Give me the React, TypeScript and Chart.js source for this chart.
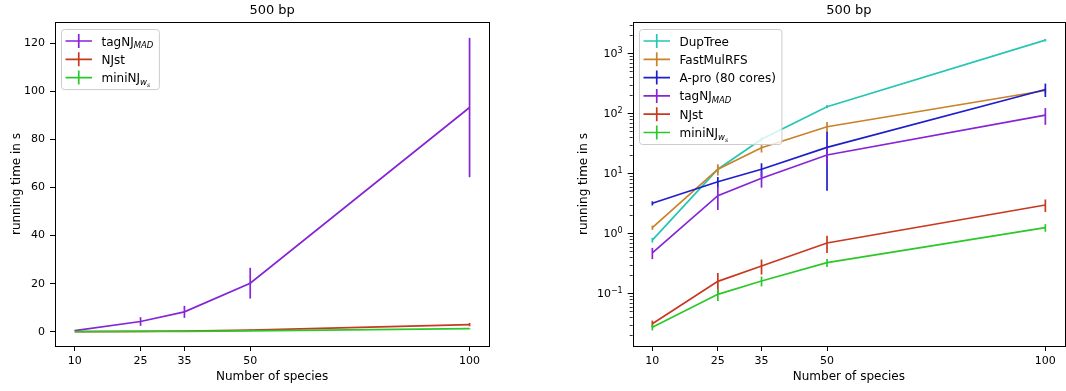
import React, { useEffect, useRef } from "react";
import { Chart, registerables } from "chart.js";

Chart.register(...registerables);

// ---- data ----
const speciesCounts = [10, 25, 35, 50, 100];

const dupTreeTimes = [0.77, 11.7, 36.9, 129, 1660];
const dupTreeErr = [0.07, 1.5, 3, 8, 80];
const fastMulRfsTimes = [1.24, 11.7, 26.7, 59.8, 240];
const fastMulRfsErr = [0.1, 2.5, 4.5, 12, 20];
const aproTimes = [3.16, 7.24, 11.7, 27.1, 250];
const aproErr = [0.25, 1.4, 3, 22, 63];
const tagNjTimes = [0.47, 4.24, 8.26, 20.2, 93.3];
const tagNjErr = [0.1, 1.8, 2.5, 6.4, 29];
const njstTimes = [0.031, 0.158, 0.285, 0.689, 2.96];
const njstErr = [0.004, 0.06, 0.08, 0.22, 0.7];
const miniNjTimes = [0.027, 0.096, 0.16, 0.324, 1.24];
const miniNjErr = [0.003, 0.022, 0.03, 0.05, 0.18];

const linearTicks = [0, 20, 40, 60, 80, 100, 120];
const logTicks = [0.1, 1, 10, 100, 1000];
const logTickExponents = ["\u22121", "0", "1", "2", "3"];

const chartTitle = "500 bp";
const xAxisTitle = "Number of species";
const yAxisTitle = "running time in s";

const FONT = '"DejaVu Sans", sans-serif';
const LINE_W = 1.7;

type Series = {
  name: string;
  sub?: string;
  subsub?: string;
  color: string;
  values: number[];
  errors: number[];
};

const dupTree: Series = { name: "DupTree", color: "#26c6b4", values: dupTreeTimes, errors: dupTreeErr };
const fastMulRfs: Series = { name: "FastMulRFS", color: "#c98228", values: fastMulRfsTimes, errors: fastMulRfsErr };
const apro: Series = { name: "A-pro (80 cores)", color: "#1e1ecd", values: aproTimes, errors: aproErr };
const tagNj: Series = { name: "tagNJ", sub: "MAD", color: "#8624d8", values: tagNjTimes, errors: tagNjErr };
const njst: Series = { name: "NJst", color: "#c8391e", values: njstTimes, errors: njstErr };
const miniNj: Series = { name: "miniNJ", sub: "w", subsub: "s", color: "#2cc82a", values: miniNjTimes, errors: miniNjErr };

type PanelSpec = {
  series: Series[];
  log: boolean;
  yMin: number;
  yMax: number;
  yAxisWidth: number;
  yTitlePad: number;
  rightPad: number;
};

function labelWidth(ctx: CanvasRenderingContext2D, s: Series) {
  ctx.font = `12px ${FONT}`;
  let w = ctx.measureText(s.name).width;
  if (s.sub) {
    ctx.font = `italic 8.5px ${FONT}`;
    w += ctx.measureText(s.sub).width;
  }
  if (s.subsub) {
    ctx.font = `italic 6px ${FONT}`;
    w += ctx.measureText(s.subsub).width;
  }
  return w;
}

function drawLabel(ctx: CanvasRenderingContext2D, s: Series, x: number, cy: number) {
  const base = cy + 4.5;
  ctx.fillStyle = "#000";
  ctx.textBaseline = "alphabetic";
  ctx.textAlign = "left";
  ctx.font = `12px ${FONT}`;
  ctx.fillText(s.name, x, base);
  let cx = x + ctx.measureText(s.name).width;
  if (s.sub) {
    ctx.font = `italic 8.5px ${FONT}`;
    ctx.fillText(s.sub, cx, base + 2.5);
    cx += ctx.measureText(s.sub).width;
  }
  if (s.subsub) {
    ctx.font = `italic 6px ${FONT}`;
    ctx.fillText(s.subsub, cx, base + 4.5);
  }
}

function makeDecor(spec: PanelSpec) {
  return {
    id: "panelDecor",
    afterDatasetDraw(chart: any, args: any) {
      const s = spec.series[args.index];
      if (!s) return;
      const { ctx } = chart;
      const xs = chart.scales.x;
      const ys = chart.scales.y;
      ctx.save();
      ctx.strokeStyle = s.color;
      ctx.lineWidth = LINE_W;
      speciesCounts.forEach((n, i) => {
        const px = xs.getPixelForValue(n);
        const lo = ys.getPixelForValue(s.values[i] - s.errors[i]);
        const hi = ys.getPixelForValue(s.values[i] + s.errors[i]);
        ctx.beginPath();
        ctx.moveTo(px, lo);
        ctx.lineTo(px, hi);
        ctx.stroke();
      });
      ctx.restore();
    },
    afterDraw(chart: any) {
      const { ctx, chartArea } = chart;
      const { left, right, top, bottom } = chartArea;
      const ys = chart.scales.y;
      ctx.save();

      if (spec.log) {
        // minor ticks
        ctx.strokeStyle = "#000";
        ctx.lineWidth = 0.8;
        for (let k = -2; k <= 3; k++) {
          for (let m = 2; m <= 9; m++) {
            const v = m * Math.pow(10, k);
            if (v < spec.yMin || v > spec.yMax) continue;
            const py = Math.round(ys.getPixelForValue(v)) + 0.5;
            ctx.beginPath();
            ctx.moveTo(left - 3, py);
            ctx.lineTo(left, py);
            ctx.stroke();
          }
        }
        // power-of-ten labels with superscript exponents
        ctx.fillStyle = "#000";
        ctx.textBaseline = "alphabetic";
        ctx.textAlign = "right";
        logTicks.forEach((v, i) => {
          const py = ys.getPixelForValue(v);
          const rx = left - 10;
          ctx.font = `8px ${FONT}`;
          const ew = ctx.measureText(logTickExponents[i]).width;
          ctx.fillText(logTickExponents[i], rx, py - 0.5);
          ctx.font = `11px ${FONT}`;
          ctx.fillText("10", rx - ew, py + 4);
        });
      }

      // frame
      ctx.strokeStyle = "#000";
      ctx.lineWidth = 1;
      ctx.strokeRect(Math.round(left) + 0.5, Math.round(top) + 0.5, Math.round(right - left), Math.round(bottom - top));

      // title
      ctx.fillStyle = "#000";
      ctx.font = `13px ${FONT}`;
      ctx.textAlign = "center";
      ctx.textBaseline = "middle";
      ctx.fillText(chartTitle, (left + right) / 2, 10.5);

      // legend
      const bx = Math.round(left + 6) + 0.5;
      const by = Math.round(top + 7) + 0.5;
      const rowH = 18.3;
      const firstRow = by + 11.5;
      const maxW = Math.max(...spec.series.map((s) => labelWidth(ctx, s)));
      const bw = 40 + maxW + 6;
      const bh = 11.5 + (spec.series.length - 1) * rowH + 12;
      ctx.beginPath();
      ctx.roundRect(bx, by, bw, bh, 3);
      ctx.fillStyle = "rgba(255,255,255,0.8)";
      ctx.fill();
      ctx.strokeStyle = "#cccccc";
      ctx.lineWidth = 1;
      ctx.stroke();
      spec.series.forEach((s, i) => {
        const cy = firstRow + i * rowH;
        ctx.strokeStyle = s.color;
        ctx.lineWidth = LINE_W;
        ctx.beginPath();
        ctx.moveTo(bx + 4, cy);
        ctx.lineTo(bx + 30.5, cy);
        ctx.moveTo(bx + 17.25, cy - 7);
        ctx.lineTo(bx + 17.25, cy + 7);
        ctx.stroke();
        drawLabel(ctx, s, bx + 40, cy);
      });
      ctx.restore();
    },
  };
}

function buildConfig(spec: PanelSpec): any {
  const n = spec.series.length;
  const datasets = spec.series.map((s, i) => ({
    label: s.name + (s.sub || "") + (s.subsub || ""),
    data: speciesCounts.map((x, j) => ({ x, y: s.values[j] })),
    borderColor: s.color,
    backgroundColor: s.color,
    borderWidth: LINE_W,
    pointRadius: 0,
    pointHoverRadius: 0,
    tension: 0,
    fill: false,
    order: n - i,
  }));

  const tickFont = { family: FONT, size: 11 };
  const titleFont = { family: FONT, size: 12 };

  return {
    type: "line",
    data: { datasets },
    options: {
      animation: false,
      responsive: false,
      events: [],
      layout: { padding: { top: 22, right: spec.rightPad, left: 0, bottom: 0 } },
      plugins: { legend: { display: false }, title: { display: false }, tooltip: { enabled: false } },
      scales: {
        x: {
          type: "linear",
          min: 5.5,
          max: 104.5,
          afterBuildTicks: (scale: any) => {
            scale.ticks = speciesCounts.map((v) => ({ value: v }));
          },
          afterFit: (scale: any) => {
            scale.height = 45;
          },
          ticks: {
            autoSkip: false,
            maxRotation: 0,
            padding: 4,
            color: "#000",
            font: tickFont,
            callback: (v: any) => String(v),
          },
          grid: { drawOnChartArea: false, drawTicks: true, tickLength: 5, color: "#000", lineWidth: 1 },
          border: { display: false },
          title: { display: true, text: xAxisTitle, color: "#000", font: titleFont, padding: { top: 0, bottom: 6.8 } },
        },
        y: {
          type: spec.log ? "logarithmic" : "linear",
          min: spec.yMin,
          max: spec.yMax,
          afterBuildTicks: (scale: any) => {
            scale.ticks = (spec.log ? logTicks : linearTicks).map((v) => ({ value: v, major: true }));
          },
          afterFit: (scale: any) => {
            scale.width = spec.yAxisWidth;
          },
          ticks: {
            autoSkip: false,
            padding: 5,
            color: spec.log ? "rgba(0,0,0,0)" : "#000",
            font: tickFont,
            callback: (v: any) => String(v),
          },
          grid: { drawOnChartArea: false, drawTicks: true, tickLength: 5, color: "#000", lineWidth: 1 },
          border: { display: false },
          title: { display: true, text: yAxisTitle, color: "#000", font: titleFont, padding: { top: spec.yTitlePad, bottom: 0 } },
        },
      },
    },
    plugins: [makeDecor(spec)],
  };
}

function Panel(props: { spec: PanelSpec; left: number; width: number }) {
  const ref = useRef<HTMLCanvasElement | null>(null);
  useEffect(() => {
    if (!ref.current) return;
    const chart = new Chart(ref.current, buildConfig(props.spec));
    return () => chart.destroy();
  }, []);
  return (
    <canvas
      ref={ref}
      width={props.width}
      height={391}
      style={{ position: "absolute", left: props.left, top: 0, width: props.width, height: 391 }}
    />
  );
}

const linearPanel: PanelSpec = {
  series: [tagNj, njst, miniNj],
  log: false,
  yMin: -5.95,
  yMax: 128.9,
  yAxisWidth: 55,
  yTitlePad: 9.8,
  rightPad: 10.7,
};

const logPanel: PanelSpec = {
  series: [dupTree, fastMulRfs, apro, tagNj, njst, miniNj],
  log: true,
  yMin: 0.0132,
  yMax: 3330,
  yAxisWidth: 72.7,
  yTitlePad: 16.8,
  rightPad: 1,
};

export default function App() {
  return (
    <div style={{ position: "absolute", left: 0, top: 0, width: 1066, height: 391, background: "#fff", overflow: "hidden" }}>
      <Panel spec={linearPanel} left={0} width={500} />
      <Panel spec={logPanel} left={560} width={506} />
    </div>
  );
}
